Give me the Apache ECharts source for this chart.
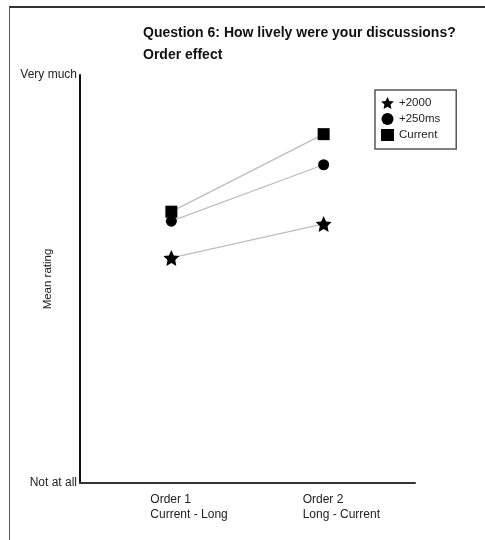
<!DOCTYPE html>
<html>
<head>
<meta charset="utf-8">
<script src="https://cdn.jsdelivr.net/npm/echarts@6/dist/echarts.min.js"></script>
<style>
  body { margin: 0; background: #fff; }
  #main { position: absolute; left: 0; top: 0; width: 485px; height: 540px; }
  #frame { position: absolute; left: 9px; top: 6px; width: 480px; height: 540px;
           border-top: 2px solid #333; border-left: 1px solid #555; }
</style>
</head>
<body>
<div id="frame"></div>
<div id="main"></div>
<script>
// 数据
var orderNames = ['Order 1\nCurrent - Long', 'Order 2\nLong - Current'];
var orderPos = [1, 2];
var yLabels = ['Not at all', 'Very much'];
var seriesNames = ['+2000', '+250ms', 'Current'];
var plus2000 = [3.31, 3.81];
var plus250ms = [3.85, 4.68];
var current = [3.99, 5.13];

var starPath = 'path://M0,-10 L2.9,-3.8 9.5,-3.1 4.6,1.5 5.9,8.1 0,4.8 -5.9,8.1 -4.6,1.5 -9.5,-3.1 -2.9,-3.8Z';

function pairs(vals) {
  return orderPos.map(function (x, i) { return [x, vals[i]]; });
}

var chart = echarts.init(document.getElementById('main'), null, { renderer: 'canvas' });

function makeSeries(name, vals, symbol, size) {
  return {
    name: name,
    type: 'line',
    data: pairs(vals),
    symbol: symbol,
    symbolSize: size,
    showSymbol: true,
    lineStyle: { color: '#bdbdbd', width: 1.3 },
    itemStyle: { color: '#000' },
    z: 3
  };
}

var option = {
  animation: false,
  title: {
    text: 'Question 6: How lively were your discussions?\nOrder effect',
    left: 143,
    top: 22,
    padding: 0,
    textStyle: { fontFamily: 'Liberation Sans', fontSize: 14, fontWeight: 'bold', color: '#111', lineHeight: 22 }
  },
  legend: {
    orient: 'vertical',
    left: 375,
    top: 90,
    padding: [7, 16, 8, 6],
    itemGap: 4,
    itemWidth: 13,
    itemHeight: 12,
    borderColor: '#555',
    borderWidth: 1.5,
    textStyle: { fontFamily: 'Liberation Sans', fontSize: 11.5, color: '#222' },
    data: [
      { name: seriesNames[0], icon: starPath },
      { name: seriesNames[1], icon: 'circle' },
      { name: seriesNames[2], icon: 'rect' }
    ]
  },
  grid: { left: 80, right: 70, top: 75, bottom: 57, containLabel: false, outerBoundsMode: 'none' },
  xAxis: {
    type: 'value',
    min: 0.4,
    max: 2.6,
    interval: 0.2,
    splitLine: { show: false },
    axisTick: { show: false },
    axisLine: { lineStyle: { color: '#333', width: 2 } },
    axisLabel: {
      margin: 9,
      align: 'left',
      padding: [0, 0, 0, -21],
      lineHeight: 15,
      fontFamily: 'Liberation Sans',
      fontSize: 12,
      color: '#222',
      formatter: function (v) {
        for (var i = 0; i < orderPos.length; i++) {
          if (Math.abs(v - orderPos[i]) < 1e-6) return orderNames[i];
        }
        return '';
      }
    }
  },
  yAxis: {
    type: 'value',
    min: 0,
    max: 6,
    interval: 6,
    name: 'Mean rating',
    nameLocation: 'middle',
    nameGap: 26,
    nameMoveOverlap: false,
    nameTextStyle: { fontFamily: 'Liberation Sans', fontSize: 11.5, color: '#222' },
    splitLine: { show: false },
    axisTick: { show: false },
    axisLine: { show: true, lineStyle: { color: '#111', width: 2 } },
    axisLabel: {
      margin: 3,
      fontFamily: 'Liberation Sans',
      fontSize: 12,
      color: '#222',
      formatter: function (v) { return v === 0 ? yLabels[0] : yLabels[1]; }
    }
  },
  series: [
    makeSeries(seriesNames[0], plus2000, starPath, 16),
    makeSeries(seriesNames[1], plus250ms, 'circle', 11),
    makeSeries(seriesNames[2], current, 'rect', 12)
  ]
};

chart.setOption(option);
</script>
</body>
</html>
